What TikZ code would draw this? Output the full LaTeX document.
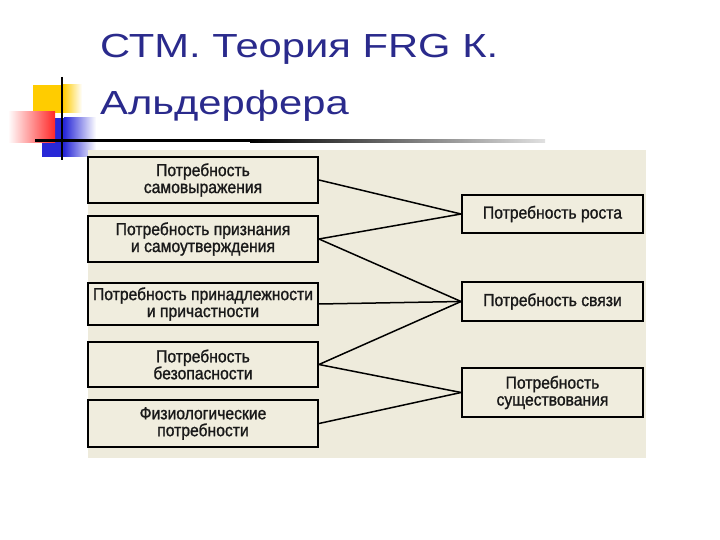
\documentclass[tikz,border=0pt]{standalone}
\usepackage{fontspec}
\setmainfont{Liberation Sans}
\newfontfamily\titlefont[FakeStretch=1.25]{Liberation Sans}
\newfontfamily\boxfont[FakeStretch=0.9,FakeBold=1.2]{Liberation Sans}
\definecolor{titleblue}{RGB}{42,42,140}
\definecolor{boxbg}{RGB}{240,237,222}
\definecolor{scanbg}{RGB}{238,235,220}
\definecolor{sqyellow}{RGB}{255,204,0}
\definecolor{sqred}{RGB}{255,40,40}
\definecolor{sqblue}{RGB}{40,40,215}
\tikzset{
  lbox/.style={draw=black, line width=1.9bp, fill=boxbg, minimum width=230bp,
    inner sep=0pt, align=center, text=black!90,
    font=\boxfont\fontsize{17.5}{17}\selectfont},
  rbox/.style={lbox, minimum width=181bp},
  link/.style={draw=black, line width=1.5bp},
  titletext/.style={anchor=base west, inner sep=0pt, text=titleblue,
    font=\titlefont\fontsize{33.5}{40}\selectfont}
}
\begin{document}
\begin{tikzpicture}[x=1bp,y=-1bp]
\useasboundingbox (0,0) rectangle (720,540);
\fill[white] (0,0) rectangle (720,540);
% decoration
\fill[sqyellow] (33,85) rectangle (63,113);
\shade[left color=sqyellow, right color=white] (63,85) rectangle (82,113);
\fill[sqblue] (42,118) rectangle (64,157);
\shade[left color=sqblue, right color=white] (64,118) rectangle (96,157);
\shade[left color=white, right color=sqred] (8,112) rectangle (55,143);
\fill[black] (35,139.5) rectangle (250,142.5);
\shade[left color=black, right color=black!12] (250,139.5) rectangle (545,142.5);
\draw[black, line width=2bp] (62,77) -- (62,160);
% title
\node[titletext] (t1) at (100,58) {СТМ. Теория FRG К.};
\node[titletext] (t2) at (100,115) {Альдерфера};
% scanned area
\fill[scanbg] (88,150) rectangle (646,458);
% left boxes
\node[lbox, minimum height=46bp] (L1) at (203,180) {Потребность\\самовыражения};
\node[lbox, minimum height=46bp] (L2) at (203,239) {Потребность признания\\и самоутверждения};
\node[lbox, minimum height=42bp] (L3) at (203,304) {Потребность принадлежности\\и причастности};
\node[lbox, minimum height=45bp] (L4) at (203,364.5) {Потребность\\безопасности};
\node[lbox, minimum height=47bp] (L5) at (203,423.5) {Физиологические\\потребности};
% right boxes
\node[rbox, minimum height=38bp] (R1) at (552.5,214) {Потребность роста};
\node[rbox, minimum height=39bp] (R2) at (552.5,301.5) {Потребность связи};
\node[rbox, minimum height=49bp] (R3) at (552.5,392.5) {Потребность\\существования};
% connectors
\draw[link] (L1.east) -- (R1.west);
\draw[link] (L2.east) -- (R1.west);
\draw[link] (L2.east) -- (R2.west);
\draw[link] (L3.east) -- (R2.west);
\draw[link] (L4.east) -- (R2.west);
\draw[link] (L4.east) -- (R3.west);
\draw[link] (L5.east) -- (R3.west);
\end{tikzpicture}
\end{document}
